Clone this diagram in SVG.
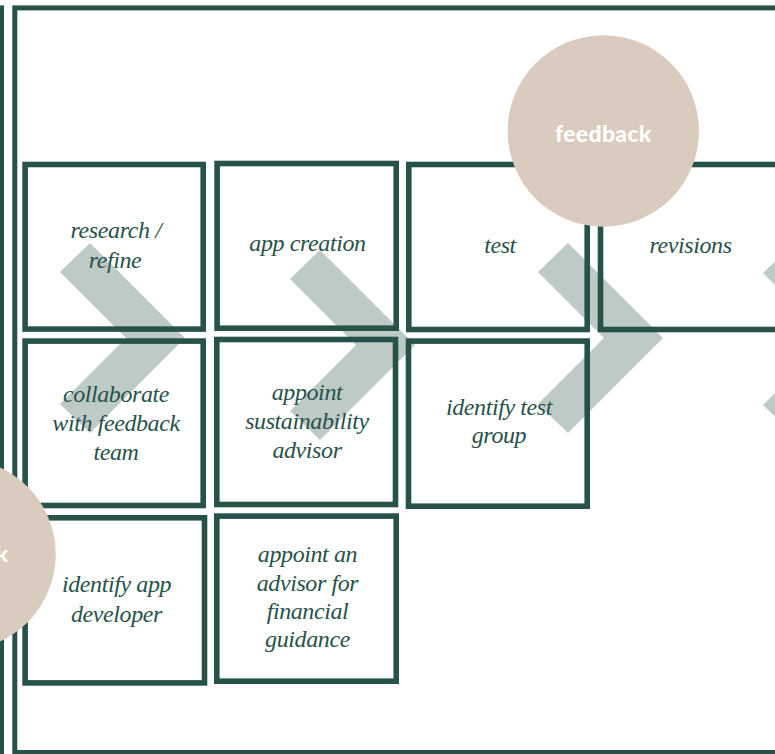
<svg xmlns="http://www.w3.org/2000/svg" width="775" height="754" viewBox="0 0 775 754">
  <defs>
    <style>
      .frame { fill: none; stroke: #27524a; stroke-width: 5; }
      .box { fill: none; stroke: #27524a; stroke-width: 5.6; }
      .chev { fill: #bdcac6; }
      .label { font-family: "Liberation Serif", "Times New Roman", serif; font-style: italic; font-size: 24px; fill: #27524a; text-anchor: middle; letter-spacing: -0.4px; }
      .bubble { fill: #d9cbbd; }
      .bubble-text { font-family: Lato, "Noto Sans", sans-serif; font-weight: 900; font-size: 23px; fill: #ffffff; text-anchor: middle; letter-spacing: 0.3px; }
    </style>
    <!-- chevron with outer apex at (0,0) -->
    <path id="chevron" d="M0 0 L-95 -95 L-125 -66 L-59 0 L-125 66 L-95 95 Z"/>
  </defs>

  <rect width="775" height="754" fill="#ffffff"/>

  <!-- outer frames -->
  <rect class="frame" x="-300" y="7.9" width="301.5" height="744.6"/>
  <rect class="frame" x="14.8" y="7.9" width="800" height="744.6"/>

  <!-- progress chevrons behind the boxes -->
  <g id="chevrons">
    <use href="#chevron" class="chev" x="185" y="338"/>
    <use href="#chevron" class="chev" x="415" y="345"/>
    <use href="#chevron" class="chev" x="663" y="338"/>
    <use href="#chevron" class="chev" x="888" y="339"/>
  </g>

  <!-- row 1 -->
  <g id="research-refine">
    <rect class="box" x="25.1" y="164.5" width="178.1" height="164.6"/>
    <text class="label" x="116" y="237.5">research /</text>
    <text class="label" x="115" y="268">refine</text>
  </g>
  <g id="app-creation">
    <rect class="box" x="217.1" y="163.5" width="179.1" height="164.7"/>
    <text class="label" x="307.5" y="251">app creation</text>
  </g>
  <g id="test">
    <rect class="box" x="408.8" y="164.5" width="178.4" height="165"/>
    <text class="label" x="500" y="253">test</text>
  </g>
  <g id="revisions">
    <rect class="box" x="600.5" y="164.5" width="179" height="165"/>
    <text class="label" x="690.5" y="253">revisions</text>
  </g>

  <!-- row 2 -->
  <g id="collaborate">
    <rect class="box" x="25.1" y="341.1" width="178.1" height="164.4"/>
    <text class="label" x="116" y="401.5">collaborate</text>
    <text class="label" x="116" y="430.5">with feedback</text>
    <text class="label" x="116" y="460">team</text>
  </g>
  <g id="sustainability-advisor">
    <rect class="box" x="216.8" y="339.5" width="178.7" height="165"/>
    <text class="label" x="307" y="400">appoint</text>
    <text class="label" x="307" y="429.3">sustainability</text>
    <text class="label" x="307" y="458.3">advisor</text>
  </g>
  <g id="test-group">
    <rect class="box" x="408.5" y="341.1" width="178.7" height="165.1"/>
    <text class="label" x="499" y="415">identify test</text>
    <text class="label" x="499" y="443.3">group</text>
  </g>

  <!-- row 3 -->
  <g id="app-developer">
    <rect class="box" x="25.1" y="517.8" width="179.4" height="165.1"/>
    <text class="label" x="116.5" y="591.7">identify app</text>
    <text class="label" x="116.5" y="621.7">developer</text>
  </g>
  <g id="financial-advisor">
    <rect class="box" x="216.8" y="516.1" width="179.4" height="165.1"/>
    <text class="label" x="307.5" y="561.7">appoint an</text>
    <text class="label" x="307.5" y="590.7">advisor for</text>
    <text class="label" x="307.5" y="619">financial</text>
    <text class="label" x="307.5" y="646.7">guidance</text>
  </g>

  <!-- feedback bubbles on top -->
  <g id="feedback-top">
    <circle class="bubble" cx="603.3" cy="131" r="95.7"/>
    <text class="bubble-text" x="603.3" y="141.5">feedback</text>
  </g>
  <g id="feedback-left">
    <circle class="bubble" cx="-40" cy="554.5" r="95.7"/>
    <text class="bubble-text" x="-40" y="562">feedback</text>
  </g>
</svg>
